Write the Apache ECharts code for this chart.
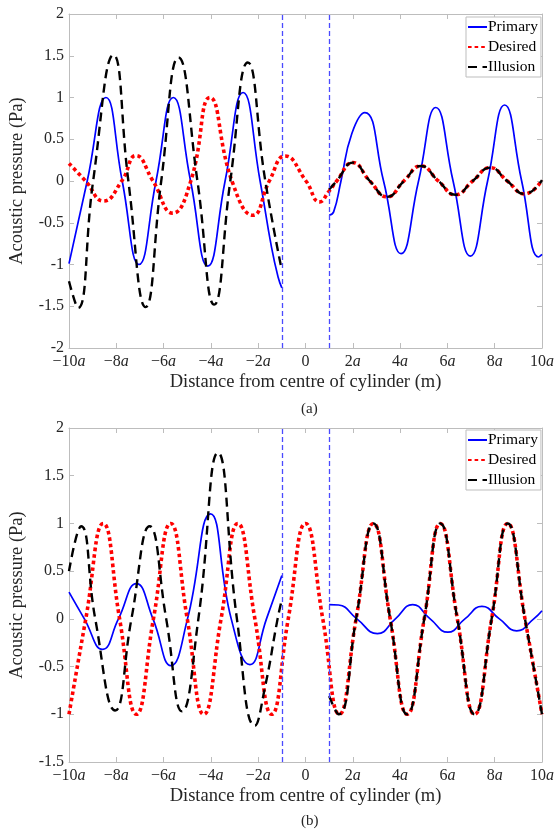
<!DOCTYPE html>
<html><head><meta charset="utf-8">
<script src="https://cdn.jsdelivr.net/npm/echarts@6/dist/echarts.min.js"></script>
<style>html,body{margin:0;padding:0;background:#fff}#c{width:557px;height:830px}</style>
</head><body><div id="c"></div>
<script>
// ---------- data (x in units of a, pressure in Pa) ----------
const seriesNames = ['Primary', 'Desired', 'Illusion'];
const cylinderEdges = [-1, 1];
const xRange = [-10, 10];
const yRangeA = [-2, 2];
const yRangeB = [-1.5, 2];

// (a)
const aPrimaryLeft = [[-10,-0.99],[-9.23,0],[-8.44,1.0],[-7.75,0],[-7.04,-1.0],[-6.32,0],[-5.59,1.0],[-4.86,0],[-4.13,-1.02],[-3.40,0],[-2.64,1.06],[-1.92,0],[-1.44,-0.79],[-1.16,-1.15],[-1,-1.28]];
const aPrimaryRight = [[1,-0.41],[1.19,-0.37],[1.5,0],[1.96,0.57],[2.51,0.82],[3.3,0],[4.04,-0.87],[4.78,0],[5.51,0.88],[6.24,0],[6.97,-0.90],[7.70,0],[8.42,0.91],[9.14,0],[9.86,-0.91],[10,-0.88]];
const aDesired = [[-10,0.21],[-9.3,0],[-8.54,-0.24],[-7.77,0],[-7.17,0.305],[-6.45,0],[-5.62,-0.385],[-4.85,0],[-4.04,1.0],[-3.11,0],[-2.22,-0.41],[-1.53,0],[-0.86,0.30],[0.02,0],[0.6,-0.25],[1.0,-0.12],[1.32,0],[2.0,0.22],[2.72,0],[3.45,-0.19],[4.16,0],[4.88,0.18],[5.62,0],[6.34,-0.165],[7.07,0],[7.81,0.16],[8.53,0],[9.27,-0.155],[10,0.01]];
const aIllusionLeft = [[-10,-1.2],[-9.62,-1.52],[-8.98,0],[-8.12,1.51],[-7.49,0],[-6.76,-1.51],[-6.10,0],[-5.37,1.48],[-4.57,0],[-3.86,-1.48],[-3.18,0],[-2.44,1.42],[-1.70,0],[-1.0,-1.07]];
const aIllusionRight = [[1,-0.1],[1.32,0],[2.0,0.22],[2.72,0],[3.45,-0.19],[4.16,0],[4.88,0.18],[5.62,0],[6.34,-0.165],[7.07,0],[7.81,0.16],[8.53,0],[9.27,-0.155],[10,0.01]];

// (b)
const bPrimaryLeft = [[-10,0.28],[-9.35,0],[-8.58,-0.32],[-7.91,0],[-7.15,0.37],[-6.45,0],[-5.69,-0.49],[-4.99,0],[-4.02,1.10],[-3.14,0],[-2.35,-0.48],[-1.65,0],[-1.0,0.455]];
const bPrimaryRight = [[1,0.15],[1.4,0.145],[2.17,0],[3.04,-0.155],[3.8,0],[4.53,0.15],[5.27,0],[6.02,-0.14],[6.74,0],[7.46,0.13],[8.2,0],[8.93,-0.125],[9.65,0],[10,0.085]];
const bDesired = [[-10,-1.0],[-9.29,0],[-8.55,1.0],[-7.86,0],[-7.15,-1.0],[-6.43,0],[-5.7,1.0],[-5.0,0],[-4.3,-1.0],[-3.57,0],[-2.86,1.0],[-2.14,0],[-1.43,-1.0],[-0.73,0],[0,1.0],[0.73,0],[1.43,-1.0],[2.14,0],[2.87,1.0],[3.58,0],[4.3,-1.0],[5.02,0],[5.7,1.0],[6.42,0],[7.15,-1.0],[7.87,0],[8.55,1.0],[9.28,0],[10,-1.0]];
const bIllusionLeft = [[-10,0.5],[-9.49,0.97],[-8.89,0],[-8.05,-0.96],[-7.36,0],[-6.59,0.97],[-5.89,0],[-5.22,-0.97],[-4.53,0],[-3.70,1.74],[-2.90,0],[-2.14,-1.12],[-1.70,-0.7],[-1.18,0],[-1.0,0.2]];
const bIllusionRight = [[1,-0.81],[1.4,-1.0],[2.14,0],[2.87,1.0],[3.58,0],[4.3,-1.0],[5.02,0],[5.7,1.0],[6.42,0],[7.15,-1.0],[7.87,0],[8.55,1.0],[9.28,0],[10,-1.0]];

const xTitle = 'Distance from centre of cylinder (m)';
const yTitle = 'Acoustic pressure (Pa)';
const captions = ['(a)', '(b)'];

// ---------- styling ----------
const FONT = '"Liberation Serif", "Times New Roman", serif';
const AXC = '#bdbdbd';
const TXT = '#262626';
const styles = {
  Primary: {color:'#0000ff', width:1.7, type:'solid'},
  Desired: {color:'#ff0000', width:3.6, type:[3.6,3]},
  Illusion: {color:'#000000', width:2.4, type:[9,5.5]}
};

function xFmt(v){
  if (v === 0) return '0';
  return (v < 0 ? '\u2212' : '') + Math.abs(v) + '{i|a}';
}
function xAxis(g, pos, showLabel){
  return {type:'value', gridIndex:g, position:pos, min:xRange[0], max:xRange[1], interval:2,
    name: showLabel ? xTitle : '', nameLocation:'middle', nameGap:25,
    nameTextStyle:{fontFamily:FONT, fontSize:18.5, color:TXT},
    axisLine:{show:true, onZero:false, lineStyle:{color:AXC, width:1}},
    axisTick:{show:true, inside:true, length:5, lineStyle:{color:AXC}},
    splitLine:{show:false},
    axisLabel:{show:showLabel, formatter:xFmt, fontFamily:FONT, fontSize:16, color:TXT, margin:6,
      rich:{i:{fontStyle:'italic', fontFamily:FONT, fontSize:16, color:TXT}}}
  };
}
function yAxis(g, pos, range, showLabel){
  return {type:'value', gridIndex:g, position:pos, min:range[0], max:range[1], interval:0.5,
    name: showLabel ? yTitle : '', nameLocation:'middle', nameGap:42,
    nameTextStyle:{fontFamily:FONT, fontSize:18.5, color:TXT},
    axisLine:{show:true, onZero:false, lineStyle:{color:AXC, width:1}},
    axisTick:{show:true, inside:true, length:5, lineStyle:{color:AXC}},
    splitLine:{show:false},
    axisLabel:{show:showLabel, fontFamily:FONT, fontSize:16, color:TXT, margin:5}
  };
}
function line(name, data, xi, yi, extra){
  const s = styles[name];
  return Object.assign({type:'line', name, data, xAxisIndex:xi, yAxisIndex:yi,
    showSymbol:false, symbol:'none', smooth:0.5, silent:true,
    lineStyle:{color:s.color, width:s.width, type:s.type, cap:'butt'},
    itemStyle:{color:s.color}}, extra||{});
}
function edges(){
  return {markLine:{silent:true, symbol:'none', label:{show:false},
    lineStyle:{color:'#4a4aff', width:1.3, type:[5,3]},
    data: cylinderEdges.map(v => ({xAxis:v}))}};
}
function legend(top){
  return {left:466, top, orient:'vertical', data:seriesNames,
    itemWidth:19, itemHeight:14, itemGap:4, padding:[2,3,2,1],
    borderColor:AXC, borderWidth:1, backgroundColor:'#fff',
    itemStyle:{opacity:0, borderWidth:0},
    textStyle:{fontFamily:FONT, fontSize:15.5, color:'#000', padding:[0,0,0,-4]}};
}

const option = {
  animation:false,
  backgroundColor:'#fff',
  grid:[{left:65, top:14, width:479, height:334},{left:65, top:428, width:479, height:334}],
  xAxis:[xAxis(0,'bottom',true), xAxis(0,'top',false), xAxis(1,'bottom',true), xAxis(1,'top',false)],
  yAxis:[yAxis(0,'left',yRangeA,true), yAxis(0,'right',yRangeA,false), yAxis(1,'left',yRangeB,true), yAxis(1,'right',yRangeB,false)],
  legend:[legend(17), legend(430)],
  title: captions.map((t,i)=>({text:t, left:296, top: i===0 ? 397 : 809,
    textStyle:{fontFamily:FONT, fontSize:15, fontWeight:'normal', color:TXT}})),
  series:[
    line('Primary', aPrimaryLeft, 0, 0),
    line('Primary', aPrimaryRight, 0, 0),
    line('Desired', aDesired, 0, 0, edges()),
    line('Illusion', aIllusionLeft, 0, 0),
    line('Illusion', aIllusionRight, 0, 0),
    line('Primary', bPrimaryLeft, 2, 2),
    line('Primary', bPrimaryRight, 2, 2),
    line('Desired', bDesired, 2, 2, edges()),
    line('Illusion', bIllusionLeft, 2, 2),
    line('Illusion', bIllusionRight, 2, 2)
  ]
};
echarts.init(document.getElementById('c')).setOption(option);
</script></body></html>
